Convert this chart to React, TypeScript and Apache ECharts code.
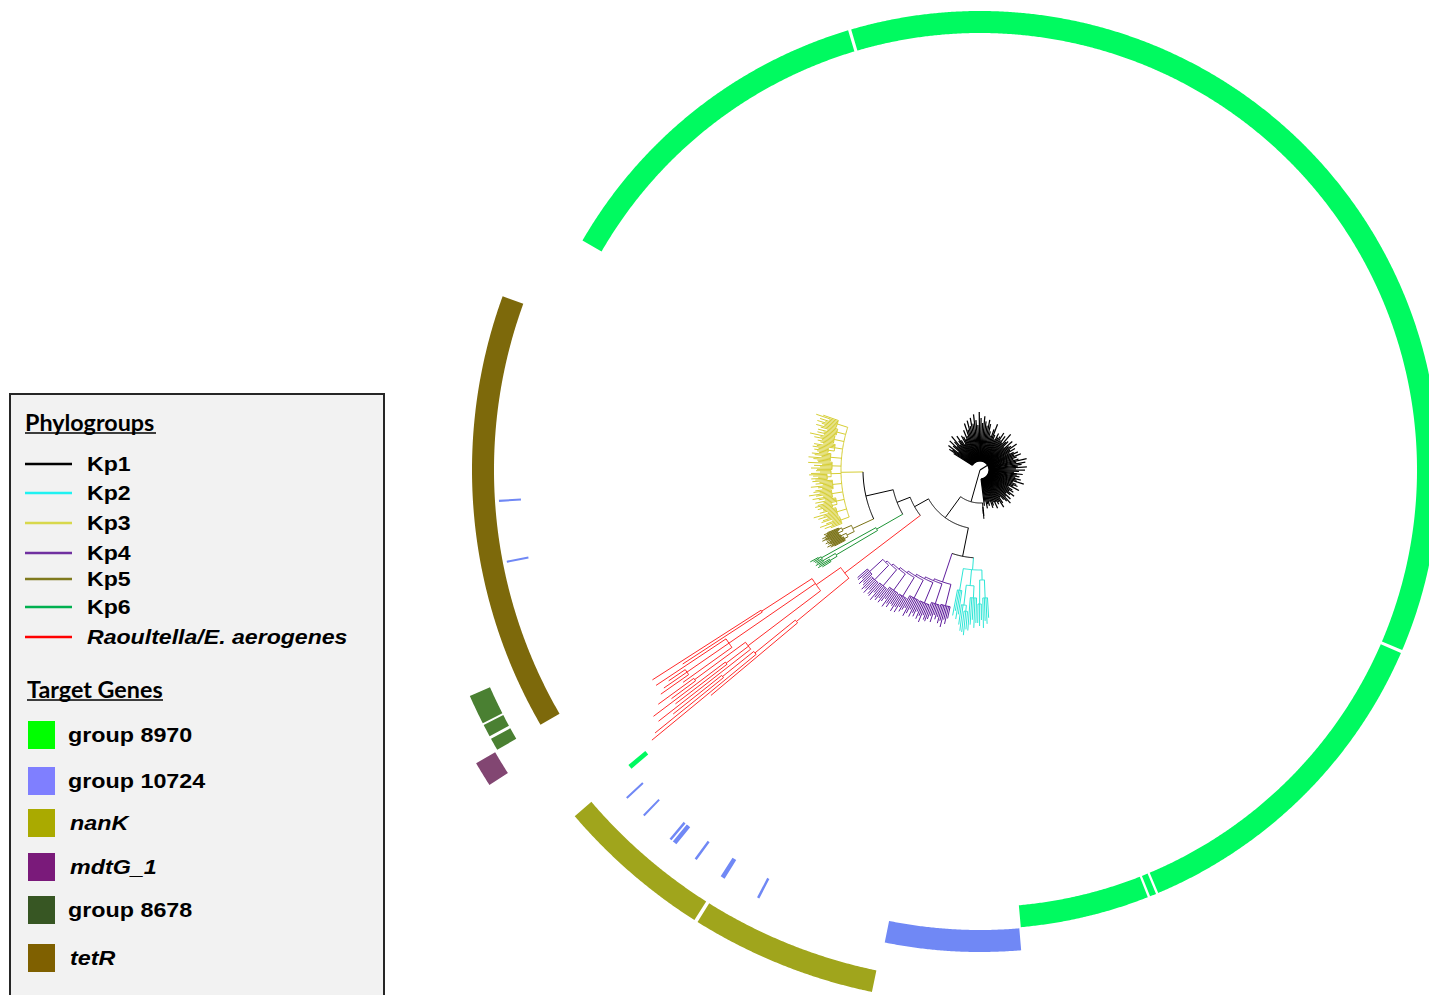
import React, { useEffect, useRef } from 'react';
import * as echarts from 'echarts';

// ================= DATA =================
// Angles: degrees clockwise from 3 o'clock (values past 360 wrap round); radii in tree-depth units.

// Phylogroup names and their angular ranges (read from the annotation rings)
const cladeNames = ['Kp1', 'Kp2', 'Kp3', 'Kp4', 'Kp5', 'Kp6', 'Raoultella/E. aerogenes'];
const kp1Range = [211, 444];
const kp1OutlierRange = [85.0, 85.9];
const kp2Range = [86.3, 101];
const kp3Range = [158.6, 199.5];
const kp4Range = [102, 139];
const kp5Range = [152.3, 157.8];
const kp6Range = [148.2, 151.8];
const redRange = [139.8, 147.6];

// Subtrees: a number is a tip branch length, an array is [branchLength, ...children]
const kp1Tree = [9,
  22, 28, 25, 31, 19, 27, 33, 24, 29, 35, 23, 27, 32, 26, 21, 30, 28, 25, 34, 27, 40, 33, 42, 36, 44, 38, 47, 41, 36, 49,
  43, 38, 45, 40, 36, 42, 38, 31, 27, 34, 40, 29, 25, 32, 28, 30, 35, 27, 33, 26, 38, 29, 31, 24, 34, 28, 30, 36, 27, 32,
  25, 29, 33, 28, 35, 30, 26, 31, 39, 28, 37, 33, 29, 38, 27, 36, 30, 25, 34, 28, 31, 27, 33, 29, 37, 26, 30, 32, 28, 35,
  24, 29, 31, 27, 34, 30, 26, 33, 28, 36, 32, 29, 25, 31, 35, 28, 30, 27, 33, 26, 29, 31, 24, 28, 26, 30, 23, 27];
const kp1OutlierTree = [4, [3, 6, 9], 7];

const kp2Tree = [12,
  [10, [18, 20, 26, 23, 30], [24, 16, 22, 19]],
  [16, [12, 25, 30, 22, 27, 33], [20, [6, 18, 24, 21], 26, 20]],
  [22, 24, 29, 21, 26]];

const kp3Tree = [22,
  [9, 12, 18, 10, 22, 15, 8, 19],
  [10, 16, 11, 20, 14, 24, 9, 17, 13],
  [8, [5, 10, 15, 12, 17], 19, 13, 21, 11],
  [11, 14, 20, 9, 16, 23, 12, 18],
  [9, 18, 11, 15, 22, 10, 17, 13, 20],
  [10, [4, 12, 16, 9, 14, 18], 20, 11, 15],
  [9, 15, 21, 12, 18, 10, 24, 14],
  [11, 13, 17, 22, 9, 16, 19, 12],
  [8, [6, 11, 14, 10, 16], 18, 21, 12, 15],
  [10, 16, 12, 20, 14, 25, 11, 18],
  [9, 13, 19, 10, 17, 22, 14],
  [11, 15, 20, 12, 18, 9, 23, 16]];

const kp4Tree = [30,
  [22, 12, 18, 14, 22, 16, 19, 13],
  [2,
    [21, 15, 11, 19, 13, 17, 20],
    [2,
      [22, 16, 12, 20, 14, 18, 11, 17],
      [2,
        [20, 14, 19, 12, 17, 21, 13, 16],
        [2,
          [22, 15, 11, 18, 13, 19, 14],
          [2,
            [20, 13, 18, 15, 20, 12, 16, 19],
            [2,
              [21, 12, 16, 14, 19, 11, 17],
              [2, [20, 15, 11, 17, 13, 16, 12], [18, 12, 16, 10, 14, 13]]]]]]]]];

const kp5Tree = [23,
  [8, [4, 12, 16, 14, 19, 13, 15, 17], [6, 13, 17, 11, 15, 12]],
  [10, [5, 14, 18, 15, 12, 17, 13], [3, 15, 13, 16, 12]]];

const kp6Tree = [30,
  [48, [8, 10, 14, 12], [14, 9, 7]],
  [62, 8, [3, 6, 9]]];

const redTree = [95,
  [68, 113, [52, 135, [40, 88, 62]]],
  [30,
    [91, 117, [28, 65, 90], [63, 30, 44]],
    [105, 60, [51, 34, 28, 20], [18, 66]],
    [60, 95, 129]]];

// Backbone branch lengths (root -> A -> N1 -> {N2, N3}, N3 -> N4 -> N5)
const backboneLengths = [33, 26, 29, 16, 14, 28];

// Target genes: presence segments [startAngle, endAngle]
const geneNames = ['group 8970', 'group 10724', 'nanK', 'mdtG_1', 'group 8678', 'tetR'];
const group8970 = [[139.4, 140.0], [210, 253.3], [253.7, 383.1], [383.5, 427.15], [427.45, 428.25], [428.55, 444.9]];
const group10724 = [[85.1, 101.4], [117.25, 117.55], [122.0, 122.55], [126.0, 126.3], [129.05, 129.6], [129.8, 130.1],
  [134.1, 134.35], [137.0, 137.25], [168.9, 169.15], [176.2, 176.45]];
const nanK = [[101.7, 122.0], [122.4, 139.5]];
const mdtG1 = [[147.3, 149.8]];
const group8678 = [[149.9, 151.2], [151.5, 152.8], [153.0, 156.1]];
const tetR = [[149.9, 200.0]];

// ================= STYLE / LAYOUT =================
const cladeColors = ['#000000', '#2CE6D6', '#D6CE34', '#5E1C9C', '#7A7216', '#1E9436', '#FF2A2A'];
const legendLineColors = ['#000000', '#1FF2F2', '#D8D84C', '#7030A0', '#7F7A1E', '#00B050', '#FF0000'];
const ringColors = ['#00FA60', '#7088F5', '#A0A51C', '#824672', '#4A8032', '#7D690B'];
const legendSquareColors = ['#00FF00', '#7F7FFF', '#AAAA00', '#7A1A7A', '#375623', '#7F6000'];
// ring radii per gene (inner, outer), in radius-axis units
const ringRadii = [[437, 459], [460, 482], [511, 533], [561, 583], [536, 558], [486, 508]];

const clades = [
  { tree: kp1Tree, range: kp1Range, color: 0 },
  { tree: kp2Tree, range: kp2Range, color: 1 },
  { tree: kp3Tree, range: kp3Range, color: 2 },
  { tree: kp4Tree, range: kp4Range, color: 3 },
  { tree: kp5Tree, range: kp5Range, color: 4 },
  { tree: kp6Tree, range: kp6Range, color: 5 },
  { tree: redTree, range: redRange, color: 6 },
  { tree: kp1OutlierTree, range: kp1OutlierRange, color: 0 },
];

const backbone: any = {
  len: 0, children: [
    {
      len: backboneLengths[0], children: [
        { clade: 7 },
        {
          len: backboneLengths[1], children: [
            { len: backboneLengths[2], children: [{ clade: 1 }, { clade: 3 }] },
            {
              len: backboneLengths[3], children: [
                { clade: 6 },
                {
                  len: backboneLengths[4], children: [
                    { clade: 5 },
                    { len: backboneLengths[5], children: [{ clade: 4 }, { clade: 2 }] },
                  ],
                },
              ],
            },
          ],
        },
      ],
    },
    { clade: 0 },
  ],
};

function countTips(node: any): number {
  if (typeof node === 'number') return 1;
  let n = 0;
  for (let i = 1; i < node.length; i++) n += countTips(node[i]);
  return n;
}

function buildSegments() {
  const segs: any[] = [];
  const layoutClade = (node: any, parentR: number, angles: number[], color: string, w: number): number => {
    if (typeof node === 'number') {
      const a = angles.shift() as number;
      segs.push({ kind: 'radial', a, r0: parentR, r1: parentR + node, color, w });
      return a;
    }
    const r = parentR + node[0];
    const childAngles: number[] = [];
    for (let i = 1; i < node.length; i++) childAngles.push(layoutClade(node[i], r, angles, color, w));
    const lo = Math.min(...childAngles);
    const hi = Math.max(...childAngles);
    segs.push({ kind: 'arc', r, a0: lo, a1: hi, color, w });
    const a = (childAngles[0] + childAngles[childAngles.length - 1]) / 2;
    segs.push({ kind: 'radial', a, r0: parentR, r1: r, color, w });
    return a;
  };
  const layoutBackbone = (node: any, parentR: number): number => {
    if (node.clade !== undefined) {
      const c = clades[node.clade];
      const n = countTips(c.tree);
      const angles: number[] = [];
      for (let i = 0; i < n; i++) angles.push(c.range[0] + (i + 0.5) * (c.range[1] - c.range[0]) / n);
      return layoutClade(c.tree, parentR, angles, cladeColors[c.color], node.clade === 0 ? 1.25 : 1);
    }
    const r = parentR + node.len;
    const childAngles = node.children.map((ch: any) => layoutBackbone(ch, r));
    const lo = Math.min(...childAngles);
    const hi = Math.max(...childAngles);
    if (r > 0) segs.push({ kind: 'arc', r, a0: lo, a1: hi, color: '#000000', w: 1 });
    const a = (childAngles[0] + childAngles[childAngles.length - 1]) / 2;
    if (node.len > 0) segs.push({ kind: 'radial', a, r0: parentR, r1: r, color: '#000000', w: 1 });
    return a;
  };
  layoutBackbone(backbone, 0);
  return segs;
}

function arcPoints(pt: (r: number, a: number) => number[], r: number, a0: number, a1: number, step: number) {
  const n = Math.max(1, Math.ceil((a1 - a0) / step));
  const pts: number[][] = [];
  for (let i = 0; i <= n; i++) pts.push(pt(r, a0 + ((a1 - a0) * i) / n));
  return pts;
}

function buildOption() {
  const segs = buildSegments();
  const geneSegments = [group8970, group10724, nanK, mdtG1, group8678, tetR];

  const renderRings = (params: any, api: any) => {
    const pt = (r: number, a: number) => api.coord([r, a]);
    const children: any[] = [];
    geneSegments.forEach((list, gi) => {
      const [ri, ro] = ringRadii[gi];
      list.forEach(([a0, a1]) => {
        const outer = arcPoints(pt, ro, a0, a1, 0.2);
        const inner = arcPoints(pt, ri, a0, a1, 0.2).reverse();
        children.push({
          type: 'polygon',
          shape: { points: outer.concat(inner) },
          style: { fill: ringColors[gi], stroke: 'none' },
        });
      });
    });
    return { type: 'group', children };
  };

  const renderTree = (params: any, api: any) => {
    const pt = (r: number, a: number) => api.coord([r, a]);
    const children: any[] = [];
    segs.forEach((s) => {
      if (s.kind === 'radial') {
        const p0 = pt(s.r0, s.a);
        const p1 = pt(s.r1, s.a);
        children.push({
          type: 'line',
          shape: { x1: p0[0], y1: p0[1], x2: p1[0], y2: p1[1] },
          style: { stroke: s.color, lineWidth: s.w, fill: 'none' },
        });
      } else if (s.a1 > s.a0) {
        children.push({
          type: 'polyline',
          shape: { points: arcPoints(pt, s.r, s.a0, s.a1, 0.5) },
          style: { stroke: s.color, lineWidth: s.w, fill: 'none' },
        });
      }
    });
    return { type: 'group', children };
  };

  // ----- legend (graphic) -----
  const font = '"Liberation Sans", Arial, sans-serif';
  const g: any[] = [];
  g.push({
    type: 'rect', shape: { x: 10, y: 394, width: 374, height: 620 },
    style: { fill: '#F2F2F2', stroke: '#262626', lineWidth: 2 }, z: 10,
  });
  const title = (text: string, x: number, y: number, w: number) => {
    g.push({
      type: 'text', x, y, scaleX: 1.06, z: 11,
      style: { text, x: 0, y: 0, font: `bold 22px Lato, ${font}`, fill: '#000', textAlign: 'left', textVerticalAlign: 'middle', align: 'left', verticalAlign: 'middle' },
    });
    g.push({ type: 'line', z: 11, shape: { x1: x, y1: y + 10, x2: x + w, y2: y + 10 }, style: { stroke: '#000', lineWidth: 1.5 } });
  };
  title('Phylogroups', 25, 423, 131);
  const cladeRowY = [464, 493, 523, 553, 579, 607, 637];
  cladeNames.forEach((name, i) => {
    const y = cladeRowY[i];
    g.push({ type: 'line', z: 11, shape: { x1: 25, y1: y, x2: 72, y2: y }, style: { stroke: legendLineColors[i], lineWidth: 2.5 } });
    g.push({
      type: 'text', x: 87, y, scaleX: 1.1, z: 11,
      style: {
        text: name, x: 0, y: 0, fill: '#000', textAlign: 'left', textVerticalAlign: 'middle', align: 'left', verticalAlign: 'middle',
        font: `${i === 6 ? 'italic ' : ''}bold 21px ${font}`,
      },
    });
  });
  title('Target Genes', 27, 690, 136);
  const geneRowY = [735, 781, 823, 867, 910, 958];
  const geneItalic = [false, false, true, true, false, true];
  geneNames.forEach((name, i) => {
    const y = geneRowY[i];
    g.push({ type: 'rect', z: 11, shape: { x: 28, y: y - 14, width: 27, height: 28 }, style: { fill: legendSquareColors[i] } });
    g.push({
      type: 'text', x: geneItalic[i] ? 70 : 68, y, scaleX: 1.11, z: 11,
      style: {
        text: name, x: 0, y: 0, fill: '#000', textAlign: 'left', textVerticalAlign: 'middle', align: 'left', verticalAlign: 'middle',
        font: `${geneItalic[i] ? 'italic ' : ''}bold 21px ${font}`,
      },
    });
  });

  return {
    animation: false,
    backgroundColor: '#ffffff',
    polar: { center: [980, 470], radius: 600 },
    angleAxis: { type: 'value', min: 85, max: 445, startAngle: 275, clockwise: true, show: false },
    radiusAxis: { type: 'value', min: 0, max: 600, show: false },
    series: [
      { type: 'custom', coordinateSystem: 'polar', silent: true, data: [[0, 85]], renderItem: renderRings, z: 1 },
      { type: 'custom', coordinateSystem: 'polar', silent: true, data: [[0, 85]], renderItem: renderTree, z: 2 },
    ],
    graphic: g,
  };
}

export default function App() {
  const ref = useRef<HTMLDivElement>(null);
  useEffect(() => {
    const chart = echarts.init(ref.current as HTMLDivElement, null, { renderer: 'svg' });
    chart.setOption(buildOption() as any);
    return () => chart.dispose();
  }, []);
  return <div ref={ref} style={{ position: 'absolute', left: 0, top: 0, width: 1429, height: 995 }} />;
}
